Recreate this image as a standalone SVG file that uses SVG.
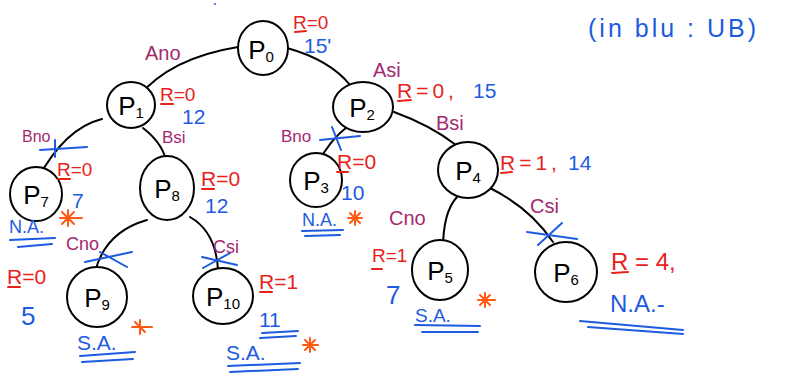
<svg xmlns="http://www.w3.org/2000/svg" width="793" height="376" viewBox="0 0 793 376">
<style>
.n ellipse{fill:#fff;stroke:#000;stroke-width:2}
.n text{font-family:"Liberation Sans",Arial,sans-serif;font-size:26px;fill:#000;text-anchor:middle}
.n tspan{font-size:15px}
.e path{fill:none;stroke:#000;stroke-width:2;stroke-linecap:round}
.x{fill:none;stroke:#1d5be0;stroke-width:2;stroke-linecap:round}
.u{fill:none;stroke-width:2;stroke-linecap:round}
.ub{stroke:#1d5be0}
.ur{stroke:#e8221a}
.lab{font-family:"Liberation Sans",Arial,sans-serif;font-size:20px;fill:#a4286f}
.r{font-family:"Liberation Sans",Arial,sans-serif;font-size:21px;fill:#e8221a}
.b{font-family:"Liberation Sans",Arial,sans-serif;font-size:21px;fill:#1d5be0}
.st{fill:none;stroke:#ff5a12;stroke-width:2;stroke-linecap:round}
</style>
<rect width="793" height="376" fill="#fff"/>
<circle cx="215" cy="4" r="1" fill="#1d5be0"/>
<g id="connectors" class="e">
<path d="M238,47 Q170,58 138,97"/>
<path d="M287,48 Q330,60 350,85"/>
<path d="M102,119 Q65,128 37,180"/>
<path d="M143,128 Q165,145 167,166"/>
<path d="M347,127 Q330,140 318,163"/>
<path d="M394,112 Q430,125 456,145"/>
<path d="M457,197 Q443,212 443,249"/>
<path d="M490,188 Q530,208 553,242"/>
<path d="M147,220 Q105,232 95,272"/>
<path d="M190,217 Q216,232 218,270"/>
</g>
<g id="cuts">
<path class="x" d="M40,150 L87,147 M55,140 L55,157"/>
<path class="x" d="M320,140 L360,136 M332,127 L341,150"/>
<path class="x" d="M85,262 L132,252 M100,252 L127,267"/>
<path class="x" d="M202,257 L237,265 M203,268 L230,253"/>
<path class="x" d="M527,232 L577,239 M538,245 L562,223"/>
</g>
<g id="P0" class="n"><ellipse cx="263" cy="48" rx="25" ry="27"/><text x="261" y="59">P<tspan dy="3">0</tspan></text></g>
<g id="P1" class="n"><ellipse cx="131" cy="105" rx="24" ry="23"/><text x="131" y="115">P<tspan dy="3">1</tspan></text></g>
<g id="P2" class="n"><ellipse cx="363" cy="107" rx="30" ry="25"/><text x="362" y="117">P<tspan dy="3">2</tspan></text></g>
<g id="P3" class="n"><ellipse cx="316" cy="180" rx="26" ry="27"/><text x="316" y="190">P<tspan dy="3">3</tspan></text></g>
<g id="P4" class="n"><ellipse cx="468" cy="170" rx="30" ry="28"/><text x="468" y="180">P<tspan dy="3">4</tspan></text></g>
<g id="P5" class="n"><ellipse cx="440" cy="270" rx="28" ry="30"/><text x="440" y="280">P<tspan dy="3">5</tspan></text></g>
<g id="P6" class="n"><ellipse cx="566" cy="272" rx="31" ry="30"/><text x="566" y="282">P<tspan dy="3">6</tspan></text></g>
<g id="P7" class="n"><ellipse cx="36" cy="194" rx="26" ry="27"/><text x="36" y="204">P<tspan dy="3">7</tspan></text></g>
<g id="P8" class="n"><ellipse cx="167" cy="188" rx="27" ry="32"/><text x="167" y="198">P<tspan dy="3">8</tspan></text></g>
<g id="P9" class="n"><ellipse cx="97" cy="297" rx="30" ry="30"/><text x="97" y="307">P<tspan dy="3">9</tspan></text></g>
<g id="P10" class="n"><ellipse cx="223" cy="296" rx="30" ry="28"/><text x="223" y="306">P<tspan dy="3">10</tspan></text></g>
<g id="edge-labels">
<text class="lab" x="145" y="60">Ano</text>
<text class="lab" x="373" y="77">Asi</text>
<text class="lab" x="22" y="142" style="font-size:16px">Bno</text>
<text class="lab" x="162" y="143" style="font-size:17px">Bsi</text>
<text class="lab" x="281" y="142" style="font-size:17px">Bno</text>
<text class="lab" x="436" y="130">Bsi</text>
<text class="lab" x="66" y="250" style="font-size:18px">Cno</text>
<text class="lab" x="213" y="253" style="font-size:18px">Csi</text>
<text class="lab" x="389" y="225">Cno</text>
<text class="lab" x="530" y="213">Csi</text>
</g>
<g id="annotations">
<text class="r" x="293" y="29" style="font-size:19px">R=0</text><path class="u ur" d="M295,32 L306,31"/>
<text class="b" x="304" y="53">15'</text>
<text class="r" x="160" y="101" style="font-size:19px">R=0</text><path class="u ur" d="M161,104 L173,104"/>
<text class="b" x="182" y="124">12</text>
<text class="r" x="397" y="98" style="letter-spacing:4px">R=0,</text><text class="b" x="473" y="98">15</text><path class="u ur" d="M398,101 L411,100"/>
<text class="r" x="57" y="176" style="font-size:19px">R=0</text><path class="u ur" d="M58,179 L70,179"/>
<text class="b" x="72" y="208">7</text>
<text class="b" x="9" y="233" style="font-size:18px">N.A.</text>
<path class="u ub" d="M10,240 L55,238 M18,247 L52,244"/>
<text class="r" x="201" y="186">R=0</text><path class="u ur" d="M202,189 L214,189"/>
<text class="b" x="205" y="213">12</text>
<text class="r" x="337" y="169">R=0</text><path class="u ur" d="M337,172 L348,172"/>
<text class="b" x="341" y="200">10</text>
<text class="b" x="302" y="226" style="font-size:18px">N.A.</text>
<path class="u ub" d="M302,231 L343,230 M305,236 L340,235"/>
<text class="r" x="500" y="170" style="letter-spacing:4px">R=1,</text><text class="b" x="568" y="170">14</text><path class="u ur" d="M501,173 L512,172"/>
<text class="r" x="7" y="284">R=0</text><path class="u ur" d="M8,287 L20,287"/>
<text class="b" x="21" y="325" style="font-size:26px">5</text>
<text class="b" x="77" y="350">S.A.</text>
<path class="u ub" d="M80,356 L135,352 M82,362 L133,359"/>
<text class="r" x="259" y="289">R=1</text><path class="u ur" d="M260,292 L272,292"/>
<text class="b" x="259" y="327">11</text>
<path class="u ub" d="M262,333 L298,331 M260,338 L296,336"/>
<text class="b" x="226" y="360">S.A.</text>
<path class="u ub" d="M228,366 L300,363 M230,372 L298,369"/>
<text class="r" x="372" y="262" style="font-size:19px">R=1</text><path class="u ur" d="M372,269 L382,269"/>
<text class="b" x="386" y="304" style="font-size:26px">7</text>
<text class="b" x="415" y="322" style="font-size:19px">S.A.</text>
<path class="u ub" d="M415,325 L480,326 M422,332 L478,332"/>
<text class="r" x="611" y="270" style="font-size:24px">R = 4,</text><path class="u ur" d="M612,273 L628,272"/>
<text class="b" x="610" y="312" style="font-size:24px">N.A.-</text>
<path class="u ub" d="M580,321 L683,330 M588,327 L683,334"/>
<text class="b" x="588" y="37" style="font-size:25px;letter-spacing:3px">(in blu : UB)</text>
</g>
<g id="stars" class="st">
<path d="M68,210 L68,226 M60,218 L82,218 M62,212 L74,224 M62,224 L74,212"/>
<path d="M355,211 L355,225 M348,218 L362,218 M350,213 L360,223 M350,223 L360,213"/>
<path d="M140,320 L140,334 M132,327 L152,327 M135,322 L145,332"/>
<path d="M310,338 L310,352 M303,345 L318,345 M305,340 L315,350 M305,350 L315,340"/>
<path d="M485,293 L485,307 M478,300 L495,300 M480,295 L490,305 M480,305 L490,295"/>
</g>
</svg>
